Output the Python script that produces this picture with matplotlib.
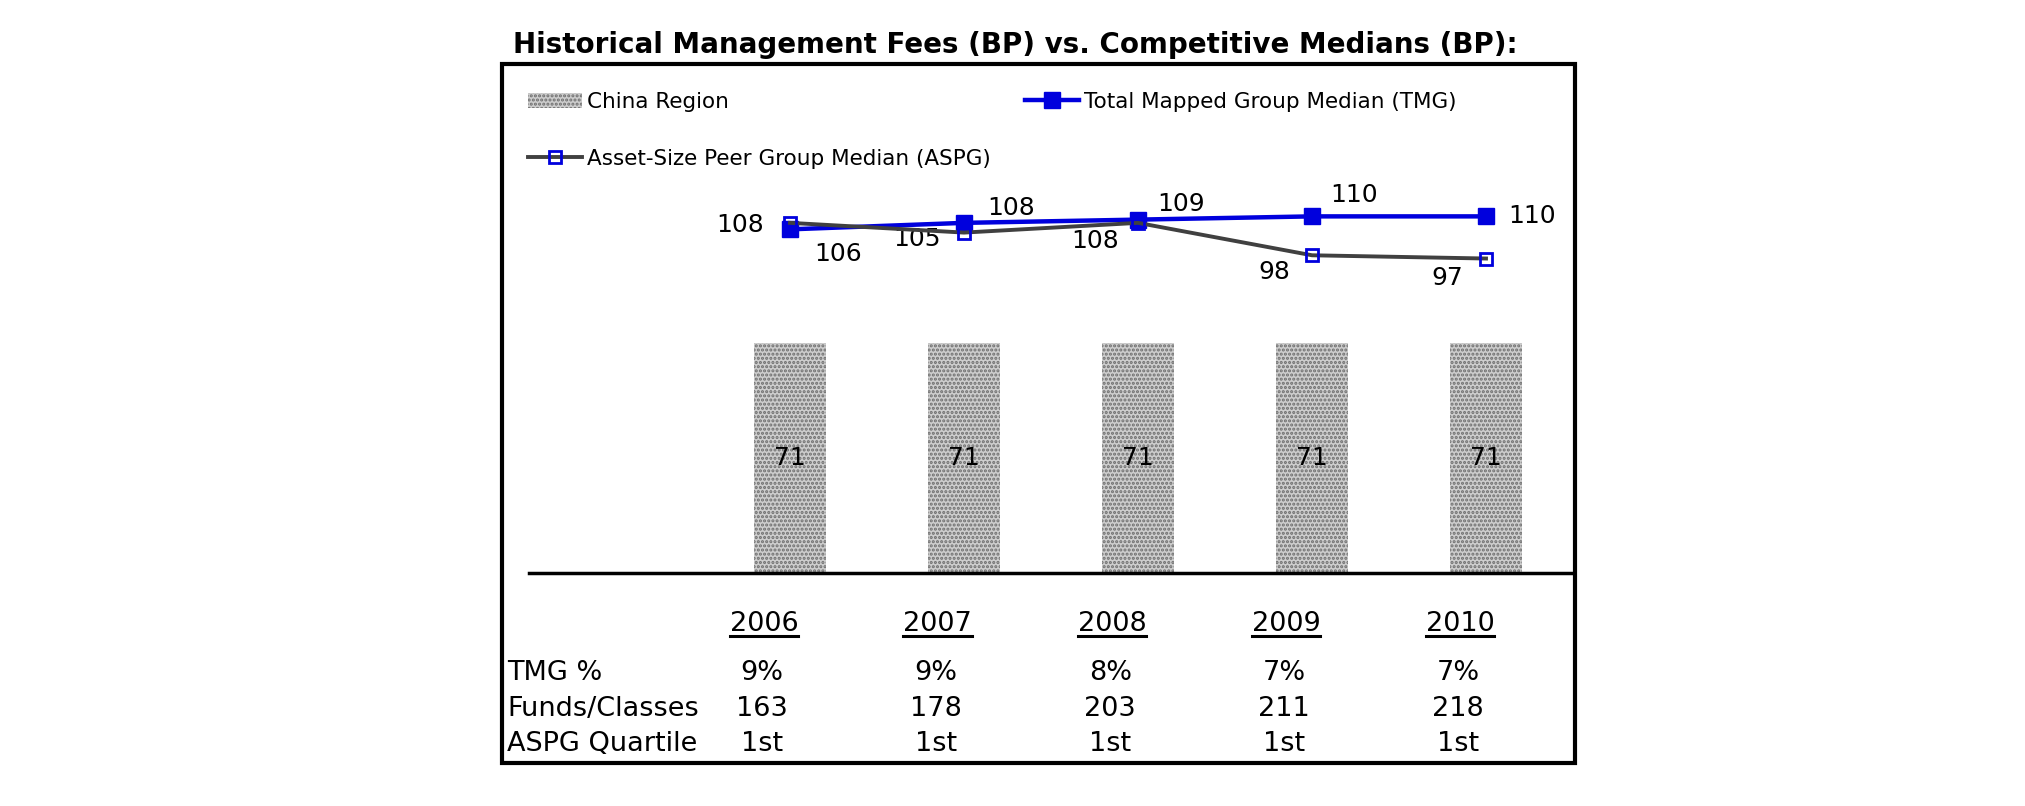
import matplotlib.pyplot as plt
from matplotlib.lines import Line2D
from matplotlib.patches import Patch, Rectangle
from matplotlib.transforms import blended_transform_factory, IdentityTransform

# data
years = ['2006', '2007', '2008', '2009', '2010']
china_region = [71, 71, 71, 71, 71]
tmg_median = [106, 108, 109, 110, 110]
aspg_median = [108, 105, 108, 98, 97]
tmg_pct = ['9%', '9%', '8%', '7%', '7%']
funds_classes = ['163', '178', '203', '211', '218']
aspg_quartile = ['1st', '1st', '1st', '1st', '1st']
row_names = ['TMG %', 'Funds/Classes', 'ASPG Quartile']

# label offsets (pixels) for the point labels
tmg_offsets = [(48, -25), (47, 15), (43, 16), (42, 21), (46, 0)]
aspg_offsets = [(-50, -2), (-47, -6), (-43, -18), (-38, -17), (-39, -19)]

W, H = 2025, 806
plt.rcParams['font.family'] = ['DejaVu Sans']
plt.rcParams['hatch.linewidth'] = 1.5

blue = '#0000dd'
gray = '#404040'
bar_face = '#cdcdcd'
bar_hatch = '#6e6e6e'

fig = plt.figure(figsize=(W / 100, H / 100), dpi=100)
ax = fig.add_axes([529 / W, 1 - 573 / H, (1573 - 529) / W, (573 - 64) / H])
ax.set_facecolor('none')

x = list(range(len(years)))
bars = ax.bar(x, china_region, width=0.41, color=bar_face, edgecolor=bar_hatch,
              hatch='....', linewidth=0, zorder=1)
ax.bar_label(bars, label_type='center', fontsize=18)

ax.plot(x, tmg_median, color=blue, lw=3.2, marker='s', ms=11, mfc=blue, mec=blue, zorder=3)
ax.plot(x, aspg_median, color=gray, lw=2.8, marker='s', ms=9, mfc='none', mec=blue,
        mew=2, zorder=4)

for i in x:
    ax.annotate(str(tmg_median[i]), (i, tmg_median[i]), xytext=tmg_offsets[i],
                textcoords='offset pixels', ha='center', va='center', fontsize=18)
    ax.annotate(str(aspg_median[i]), (i, aspg_median[i]), xytext=aspg_offsets[i],
                textcoords='offset pixels', ha='center', va='center', fontsize=18)

ax.set_xlim(-1.5, 4.5)
ax.set_ylim(0, 157)
for s in ['top', 'left', 'right']:
    ax.spines[s].set_visible(False)
ax.spines['bottom'].set_linewidth(2.5)
ax.set_xticks([])
ax.set_yticks([])

# outer frame
fig.patches.append(Rectangle((502 / W, 1 - 763 / H), (1575 - 502) / W, (763 - 64) / H,
                             transform=fig.transFigure, fill=False, lw=3, ec='black'))

fig.text(513 / W, 1 - 45 / H, 'Historical Management Fees (BP) vs. Competitive Medians (BP):',
         fontsize=20, fontweight='bold', ha='left', va='center')

# legends
h_china = Patch(facecolor=bar_face, edgecolor=bar_hatch, hatch='....', lw=0)
h_tmg = Line2D([], [], color=blue, lw=3.2, marker='s', ms=11, mfc=blue, mec=blue)
h_aspg = Line2D([], [], color=gray, lw=2.8, marker='s', ms=9, mfc='none', mec=blue, mew=2)
fig.legend([h_china, h_aspg], ['China Region', 'Asset-Size Peer Group Median (ASPG)'],
           loc='upper left', bbox_to_anchor=(528 / W, 1 - 92 / H), frameon=False,
           fontsize=15.5, handlelength=2.5, handletextpad=0.25, labelspacing=1.7,
           borderpad=0, borderaxespad=0)
fig.legend([h_tmg], ['Total Mapped Group Median (TMG)'],
           loc='upper left', bbox_to_anchor=(1025 / W, 1 - 92 / H), frameon=False,
           fontsize=15.5, handlelength=2.5, handletextpad=0.25,
           borderpad=0, borderaxespad=0)

# table below the chart
tr = blended_transform_factory(ax.transData, fig.transFigure)
year_texts = []
for i in x:
    t = ax.text(i - 0.15, 1 - 624 / H, years[i], transform=tr, ha='center', va='center',
                fontsize=19.5)
    year_texts.append(t)

rows = [tmg_pct, funds_classes, aspg_quartile]
row_y = [673, 709, 744]
for name, vals, yy in zip(row_names, rows, row_y):
    fig.text(507 / W, 1 - yy / H, name, ha='left', va='center', fontsize=19.5)
    for i in x:
        ax.text(i - 0.16, 1 - yy / H, vals[i], transform=tr, ha='center', va='center',
                fontsize=19.5)

# underline the years
fig.canvas.draw()
r = fig.canvas.get_renderer()
for t in year_texts:
    bb = t.get_window_extent(r)
    fig.add_artist(Line2D([bb.x0, bb.x1], [bb.y0 + 1, bb.y0 + 1], color='black', lw=2.2,
                          transform=IdentityTransform()))

fig.savefig('out.png', dpi=100)
